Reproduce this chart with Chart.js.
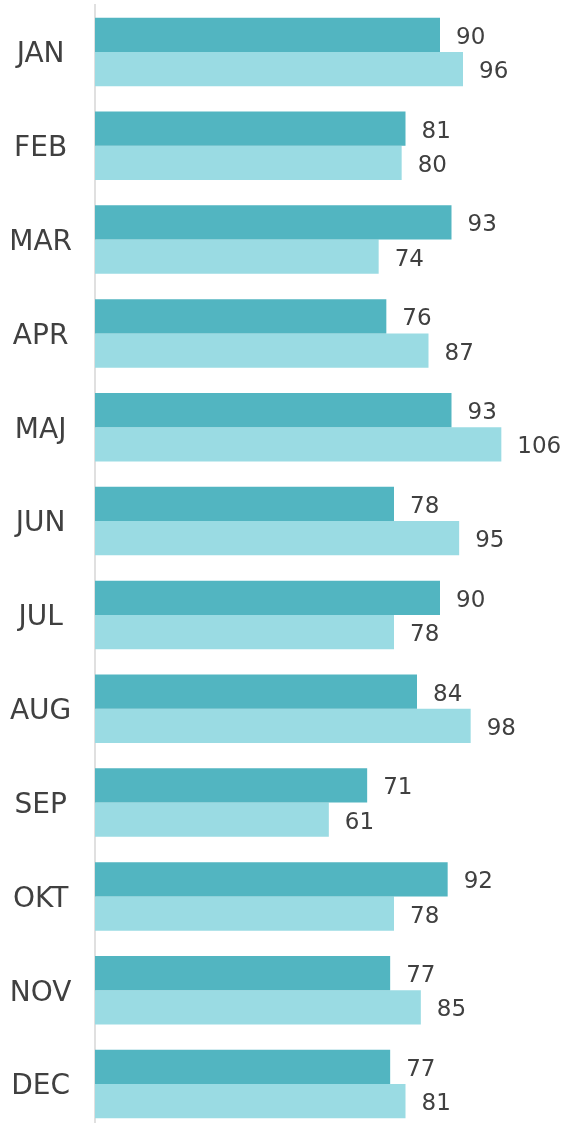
<!DOCTYPE html>
<html>
<head>
<meta charset="utf-8">
<script src="https://cdn.jsdelivr.net/npm/chart.js@4/dist/chart.umd.min.js"></script>
<style>
  html, body { margin: 0; padding: 0; background: #fff; overflow: hidden; }
  #wrap { width: 565px; height: 1131px; }
</style>
</head>
<body>
<div id="wrap"><canvas id="ventasChart"></canvas></div>
<script>
// Datos del gráfico
const meses = ['JAN', 'FEB', 'MAR', 'APR', 'MAJ', 'JUN', 'JUL', 'AUG', 'SEP', 'OKT', 'NOV', 'DEC'];
const serie1 = [90, 81, 93, 76, 93, 78, 90, 84, 71, 92, 77, 77];
const serie2 = [96, 80, 74, 87, 106, 95, 78, 98, 61, 78, 85, 81];

const colorOscuro = '#52b5c1';
const colorClaro = '#9adbe3';
const colorTexto = '#404040';

// Plugin simple para escribir el valor al final de cada barra
const etiquetas = {
    id: 'etiquetas',
    afterDatasetsDraw(chart) {
        const ctx = chart.ctx;
        ctx.save();
        ctx.font = '23px "DejaVu Sans", Verdana, sans-serif';
        ctx.fillStyle = colorTexto;
        ctx.textAlign = 'left';
        ctx.textBaseline = 'middle';
        chart.data.datasets.forEach((ds, i) => {
            chart.getDatasetMeta(i).data.forEach((bar, j) => {
                ctx.fillText(ds.data[j], bar.x + 16, bar.y + 3);
            });
        });
        ctx.restore();
    }
};

const ctx = document.getElementById('ventasChart').getContext('2d');

window.myChart = new Chart(ctx, {
    type: 'bar',
    data: {
        labels: meses,
        datasets: [{
            data: serie1,
            backgroundColor: colorOscuro,
            categoryPercentage: 0.73,
            barPercentage: 1.0
        }, {
            data: serie2,
            backgroundColor: colorClaro,
            categoryPercentage: 0.73,
            barPercentage: 1.0
        }]
    },
    options: {
        indexAxis: 'y',
        responsive: true,
        maintainAspectRatio: false,
        animation: false,
        layout: { padding: { top: 5, right: 10, bottom: 0, left: 0 } },
        plugins: {
            legend: { display: false },
            tooltip: { enabled: false }
        },
        scales: {
            x: {
                display: false,
                min: 0,
                max: 120
            },
            y: {
                afterFit(scale) {
                    // ancho fijo y sin relleno extra arriba/abajo
                    scale.width = 95;
                    scale.paddingTop = 0;
                    scale.paddingBottom = 0;
                },
                grid: { display: false, drawTicks: false },
                border: { display: true, color: '#e0e0e0', width: 2 },
                ticks: {
                    crossAlign: 'center',
                    color: colorTexto,
                    padding: 23,
                    labelOffset: 3,
                    font: { family: '"DejaVu Sans", Verdana, sans-serif', size: 28 }
                }
            }
        }
    },
    plugins: [etiquetas]
});
</script>
</body>
</html>
